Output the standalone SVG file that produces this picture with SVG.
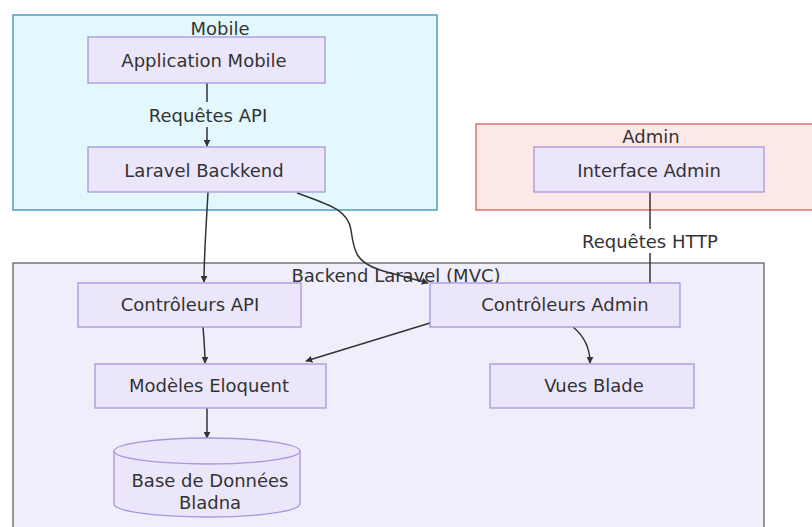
<svg xmlns="http://www.w3.org/2000/svg" width="812" height="527" viewBox="0 0 812 527">
<defs>
<marker id="arr" viewBox="0 0 10 10" refX="9" refY="5" markerWidth="7" markerHeight="7" orient="auto-start-reverse" markerUnits="userSpaceOnUse">
<path d="M0,0 L10,5 L0,10 z" fill="#333"/>
</marker>
<style>
text{font-family:"DejaVu Sans","Noto Sans",sans-serif;font-size:18px;fill:#333;text-anchor:middle;dominant-baseline:central}
.node{fill:#ece6fb;stroke:#a895dc;stroke-width:1.3}
.edge{fill:none;stroke:#333;stroke-width:1.5}
</style>
</defs>
<rect width="812" height="527" fill="#fff"/>
<g id="cluster-mobile">
<rect x="13" y="15" width="424" height="195" fill="#e2f8fd" stroke="#4c9fbf" stroke-width="1.5"/>
<text x="220" y="28">Mobile</text>
</g>
<g id="cluster-admin">
<rect x="476" y="124" width="340" height="86" fill="#fde8e8" stroke="#e07070" stroke-width="1.5"/>
<text x="651" y="136">Admin</text>
</g>
<g id="cluster-backend">
<rect x="13" y="263" width="751" height="270" fill="#f1eefc" stroke="#555" stroke-width="1.2"/>
<text x="396" y="275">Backend Laravel (MVC)</text>
</g>
<g id="connectors">
<path class="edge" d="M207,83 L207,102"/>
<path class="edge" d="M207,127 L207,146" marker-end="url(#arr)"/>
<text x="208" y="115">Requêtes API</text>
<path class="edge" d="M208,192 C206,230 204,255 204,282" marker-end="url(#arr)"/>
<path class="edge" d="M297,193 C330,205 348,210 351,230 C354,252 356,262 380,270 C400,276 415,279 428,283" marker-end="url(#arr)"/>
<path class="edge" d="M650,192 L650,229"/>
<path class="edge" d="M650,253 L650,283"/>
<text x="650" y="241">Requêtes HTTP</text>
<path class="edge" d="M203,327 C204,340 205,350 205,363" marker-end="url(#arr)"/>
<path class="edge" d="M430,323 L306,361" marker-end="url(#arr)"/>
<path class="edge" d="M573,327 C584,336 590,348 590,363" marker-end="url(#arr)"/>
<path class="edge" d="M207,408 L207,438" marker-end="url(#arr)"/>
</g>
<g id="node-app-mobile">
<rect class="node" x="88" y="37" width="237" height="46"/>
<text x="204" y="60">Application Mobile</text>
</g>
<g id="node-laravel-backend">
<rect class="node" x="88" y="147" width="237" height="45"/>
<text x="204" y="170">Laravel Backkend</text>
</g>
<g id="node-interface-admin">
<rect class="node" x="534" y="147" width="230" height="45"/>
<text x="649" y="170">Interface Admin</text>
</g>
<g id="node-controleurs-api">
<rect class="node" x="78" y="283" width="223" height="44"/>
<text x="190" y="304">Contrôleurs API</text>
</g>
<g id="node-controleurs-admin">
<rect class="node" x="430" y="283" width="250" height="44"/>
<text x="565" y="304">Contrôleurs Admin</text>
</g>
<g id="node-modeles">
<rect class="node" x="95" y="364" width="231" height="44"/>
<text x="209" y="385">Modèles Eloquent</text>
</g>
<g id="node-vues-blade">
<rect class="node" x="490" y="364" width="204" height="44"/>
<text x="594" y="385">Vues Blade</text>
</g>
<g id="node-bdd">
<path class="node" d="M114,451 A93,13 0 0 1 300,451 L300,504 A93,13 0 0 1 114,504 Z"/>
<path d="M114,451 A93,13 0 0 0 300,451" fill="none" stroke="#a895dc" stroke-width="1.3"/>
<text x="210" y="480">Base de Données</text>
<text x="210" y="502">Bladna</text>
</g>
</svg>
